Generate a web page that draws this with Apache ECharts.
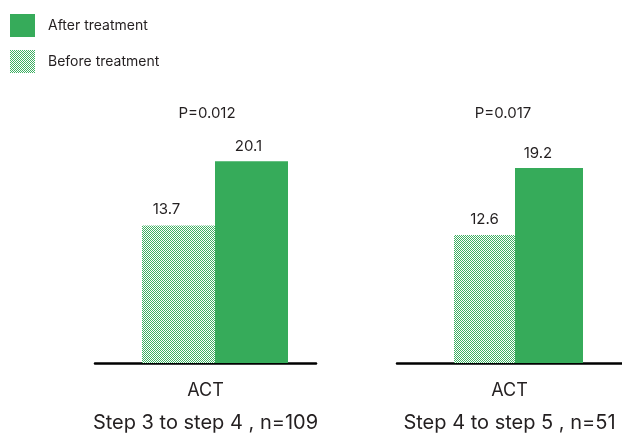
<!DOCTYPE html>
<html>
<head>
<meta charset="utf-8">
<script src="https://cdn.jsdelivr.net/npm/echarts@6/dist/echarts.min.js"></script>
<style>html,body{margin:0;padding:0;background:#fff}#c{width:622px;height:438px}</style>
</head>
<body>
<div id="c"></div>
<script>
// ---- data ----
var categories = ['ACT'];
var groupTitles = ['Step 3 to step 4 , n=109', 'Step 4 to step 5 , n=51'];
var beforeValues = [13.7, 12.6];
var afterValues = [20.1, 19.2];
var pLabels = ['P=0.012', 'P=0.017'];
var seriesNames = ['After treatment', 'Before treatment'];

// ---- styles ----
var FONT = 'Inter';
var GREEN = '#36ab5a';
var TEXT = '#231f20';
function checker() {
  var c = document.createElement('canvas');
  c.width = 2; c.height = 2;
  var g = c.getContext('2d');
  g.fillStyle = '#ffffff'; g.fillRect(0, 0, 2, 2);
  g.fillStyle = '#3fb063';
  g.fillRect(0, 0, 1, 1); g.fillRect(1, 1, 1, 1);
  return c;
}
var pattern = { image: checker(), repeat: 'repeat' };

var grids = [
  { left: 95, right: 306, top: 110, bottom: 71 },
  { left: 397, right: 0, top: 110, bottom: 71 }
];
var yMax = [25.2, 24.9];
var barW = [[73, 73], [61, 68]];
var spacerW = [19, 18];
var labelOffBefore = [[-12, 0], [0, 0]];
var labelOffAfter = [[-3, 0], [-11, 0]];

var xAxes = [], yAxes = [], series = [];
grids.forEach(function (g, i) {
  xAxes.push({
    type: 'category', gridIndex: i, data: categories,
    axisLine: { lineStyle: { color: '#000', width: 2.5 } },
    axisTick: { show: false },
    axisLabel: { color: TEXT, fontSize: 18, fontFamily: FONT, margin: 19 },
    name: groupTitles[i], nameLocation: 'middle', nameGap: 50,
    nameTextStyle: { color: TEXT, fontSize: 20, fontFamily: FONT }
  });
  yAxes.push({ type: 'value', gridIndex: i, min: 0, max: yMax[i], show: false, splitLine: { show: false } });
  series.push({
    type: 'bar', name: 'spacer', xAxisIndex: i, yAxisIndex: i, silent: true,
    barWidth: spacerW[i], barGap: '0%', data: [0],
    itemStyle: { color: 'rgba(0,0,0,0)' }
  });
  series.push({
    type: 'bar', name: seriesNames[1], xAxisIndex: i, yAxisIndex: i,
    barWidth: barW[i][0], barGap: '0%',
    data: [beforeValues[i]],
    itemStyle: { color: pattern },
    label: { show: true, position: 'top', distance: 8, offset: labelOffBefore[i],
      color: TEXT, fontSize: 15, fontFamily: FONT }
  });
  series.push({
    type: 'bar', name: seriesNames[0], xAxisIndex: i, yAxisIndex: i,
    barWidth: barW[i][1], barGap: '0%',
    data: [afterValues[i]],
    itemStyle: { color: GREEN },
    label: { show: true, position: 'top', distance: 7, offset: labelOffAfter[i],
      color: TEXT, fontSize: 15, fontFamily: FONT }
  });
});

var pPos = [[207, 113], [503, 113]];
var graphics = pLabels.map(function (t, i) {
  return { type: 'text', x: pPos[i][0], y: pPos[i][1],
    style: { text: t, fill: TEXT, fontSize: 15, fontFamily: FONT, align: 'center', verticalAlign: 'middle' } };
});
// legend drawn as graphics (so the checker swatch keeps its pattern)
var legendFills = [GREEN, pattern];
var legendTop = [14, 50];
seriesNames.forEach(function (n, i) {
  graphics.push({ type: 'rect', shape: { x: 10, y: legendTop[i], width: 25, height: 23 },
    style: { fill: legendFills[i] } });
  graphics.push({ type: 'text', x: 48, y: legendTop[i] + 12,
    style: { text: n, fill: TEXT, fontSize: 14, fontFamily: FONT, align: 'left', verticalAlign: 'middle' } });
});

var chart = echarts.init(document.getElementById('c'), null, { renderer: 'canvas' });
chart.setOption({
  animation: false,
  backgroundColor: '#fff',
  grid: grids,
  xAxis: xAxes,
  yAxis: yAxes,
  series: series,
  graphic: graphics
});
</script>
</body>
</html>
